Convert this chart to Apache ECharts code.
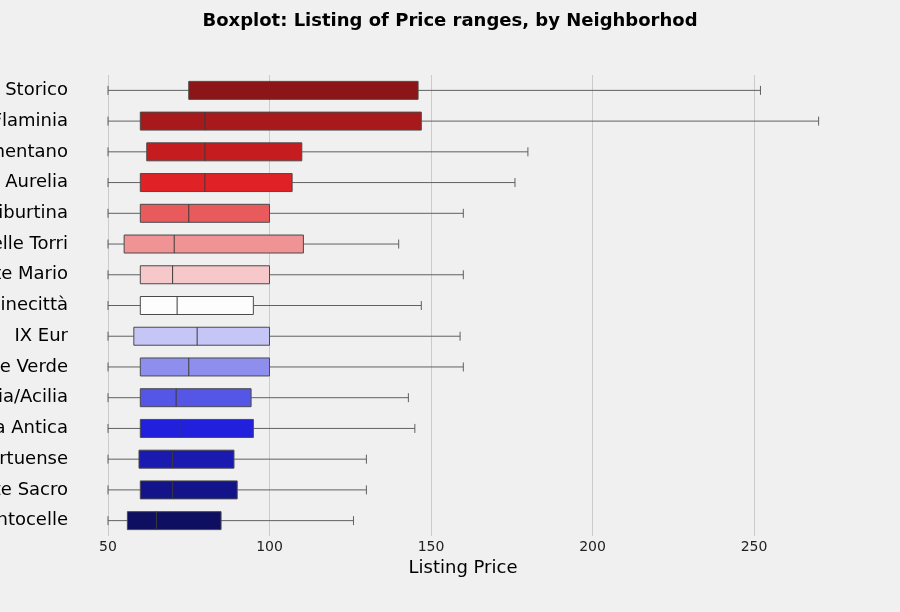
<!DOCTYPE html>
<html>
<head>
<meta charset="utf-8">
<script src="https://cdn.jsdelivr.net/npm/echarts@6/dist/echarts.min.js"></script>
<style>
html,body{margin:0;padding:0;background:#f0f0f0;}
#c{width:900px;height:612px;}
</style>
</head>
<body>
<div id="c"></div>
<script>
const neighborhoods = [
  "I Centro Storico",
  "XV Cassia/Flaminia",
  "II Parioli/Nomentano",
  "XIII Aurelia",
  "IV Tiburtina",
  "VI Roma delle Torri",
  "XIV Monte Mario",
  "VII San Giovanni/Cinecittà",
  "IX Eur",
  "XII Monte Verde",
  "X Ostia/Acilia",
  "VIII Appia Antica",
  "XI Arvalia/Portuense",
  "III Monte Sacro",
  "V Prenestino/Centocelle"
];
const whiskerLow = [50, 50, 50, 50, 50, 50, 50, 50, 50, 50, 50, 50, 50, 50, 50];
const q1 =        [75, 60, 62, 60, 60, 55, 60, 60, 58, 60, 60, 60, 59.6, 60, 56];
const median =    [100, 80, 80, 80, 75, 70.5, 70, 71.4, 77.6, 75, 71.1, 72.2, 70, 70, 65];
const q3 =        [146, 147, 110, 107, 100, 110.5, 100, 95, 100, 100, 94.3, 95, 89, 90, 85];
const whiskerHigh = [252, 270, 180, 176, 160, 140, 160, 147, 159, 160, 143, 145, 130, 130, 126];
const boxColors = ["#8c1518","#a8191b","#c41c1f","#e02226","#e85a5c","#ef9394","#f6c8c9",
                   "#fdfdfe","#c6c6f6","#8e8eef","#5555e6","#2020dd","#1a1ab0","#13138a","#0f0f62"];
const xTicks = [50, 100, 150, 200, 250];

const rows = neighborhoods.map((n, i) => [i, whiskerLow[i], q1[i], median[i], q3[i], whiskerHigh[i]]);

const chart = echarts.init(document.getElementById('c'), null, {renderer: 'canvas'});
chart.setOption({
  backgroundColor: '#f0f0f0',
  animation: false,
  textStyle: {fontFamily: 'DejaVu Sans'},
  title: {
    text: 'Boxplot: Listing of Price ranges, by Neighborhod',
    left: 'center', top: 7,
    textStyle: {fontFamily: 'DejaVu Sans', fontWeight: 'bold', fontSize: 18, color: '#000'}
  },
  grid: {left: 108, right: 146, top: 75, bottom: 76, containLabel: false, outerBoundsMode: 'none'},
  xAxis: {
    type: 'value', min: xTicks[0], max: xTicks[xTicks.length - 1], interval: 50,
    name: 'Listing Price', nameLocation: 'middle', nameGap: 22,
    nameTextStyle: {fontFamily: 'DejaVu Sans', fontSize: 18, color: '#000', padding: [0, 0, 0, 64]},
    axisLine: {show: false}, axisTick: {show: false},
    axisLabel: {fontFamily: 'DejaVu Sans', fontSize: 14, color: '#222', margin: 4},
    splitLine: {show: true, lineStyle: {color: '#cbcbcb', width: 1}}
  },
  yAxis: {
    type: 'category', data: neighborhoods, inverse: true,
    axisLine: {show: false}, axisTick: {show: false},
    axisLabel: {fontFamily: 'DejaVu Sans', fontSize: 18, color: '#000', margin: 40},
    splitLine: {show: false}
  },
  series: [{
    type: 'custom',
    clip: false,
    data: rows,
    encode: {y: 0, x: [1, 2, 3, 4, 5]},
    renderItem: function (params, api) {
      const idx = api.value(0);
      const lo = api.coord([api.value(1), idx]);
      const a = api.coord([api.value(2), idx]);
      const m = api.coord([api.value(3), idx]);
      const b = api.coord([api.value(4), idx]);
      const hi = api.coord([api.value(5), idx]);
      const band = api.size([0, 1])[1];
      const bh = band * 0.585;
      const cy = lo[1];
      const cap = 4.5;
      const wStyle = {stroke: '#606060', lineWidth: 1};
      return {
        type: 'group',
        children: [
          {type: 'line', shape: {x1: lo[0], y1: cy, x2: a[0], y2: cy}, style: wStyle},
          {type: 'line', shape: {x1: b[0], y1: cy, x2: hi[0], y2: cy}, style: wStyle},
          {type: 'line', shape: {x1: lo[0], y1: cy - cap, x2: lo[0], y2: cy + cap}, style: wStyle},
          {type: 'line', shape: {x1: hi[0], y1: cy - cap, x2: hi[0], y2: cy + cap}, style: wStyle},
          {type: 'rect', shape: {x: a[0], y: cy - bh / 2, width: b[0] - a[0], height: bh},
           style: {fill: boxColors[params.dataIndex], stroke: '#4a4a4a', lineWidth: 1}},
          {type: 'line', shape: {x1: m[0], y1: cy - bh / 2, x2: m[0], y2: cy + bh / 2},
           style: {stroke: '#3a3a3a', lineWidth: 1}}
        ]
      };
    }
  }]
});
</script>
</body>
</html>
